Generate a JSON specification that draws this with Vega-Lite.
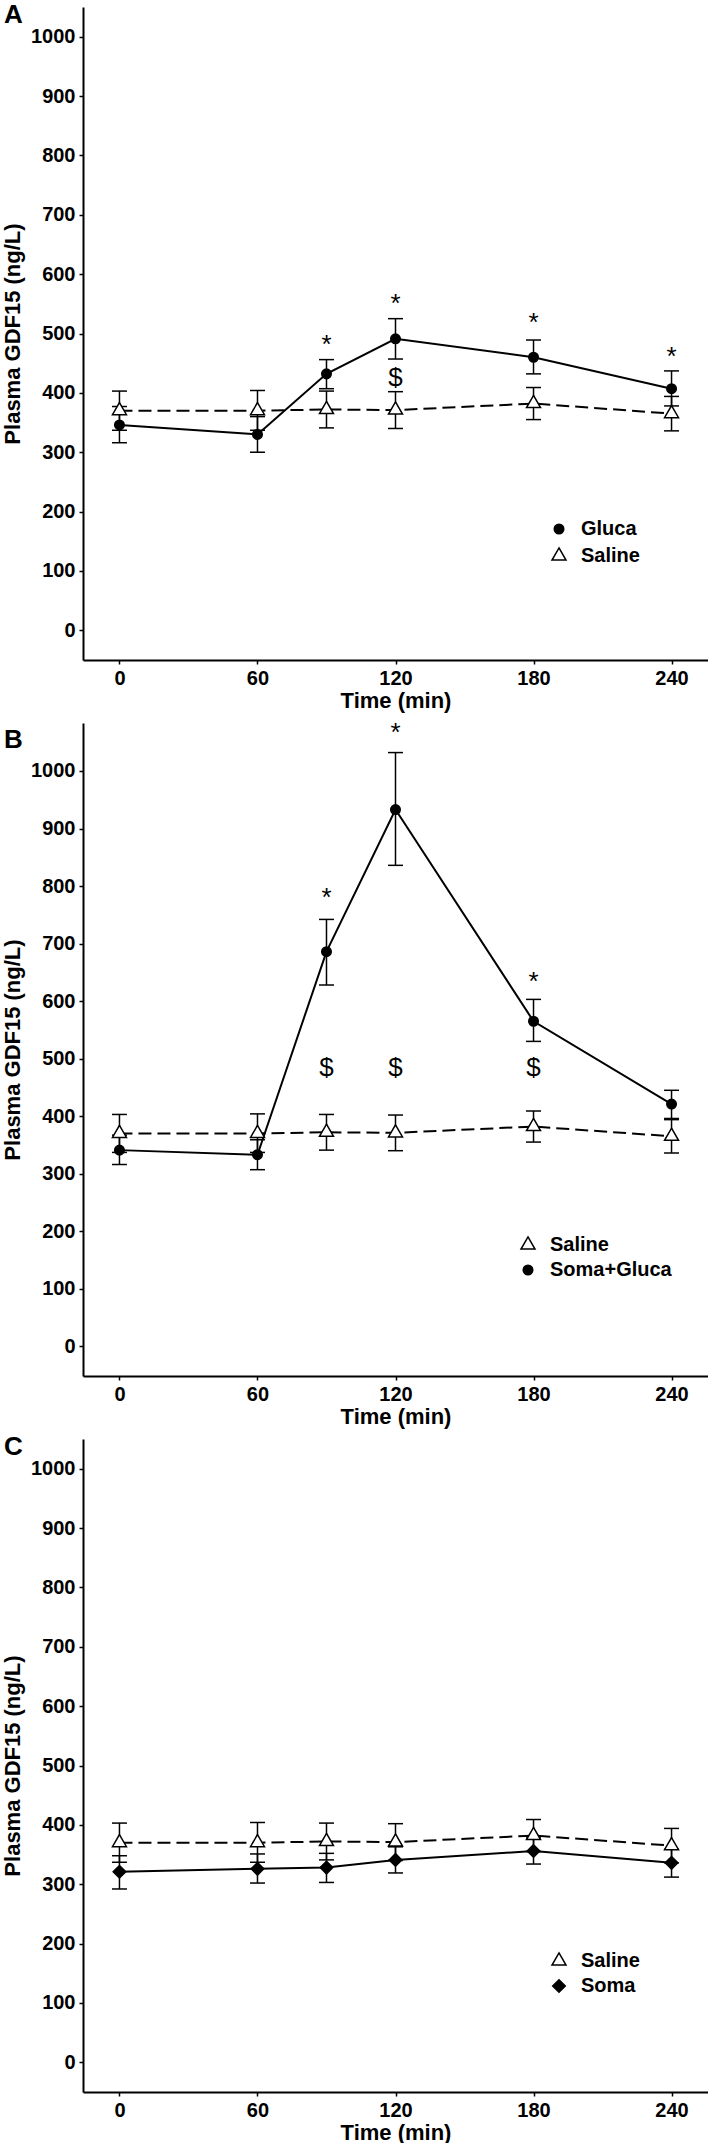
{
  "$schema": "https://vega.github.io/schema/vega-lite/v6.json",
  "padding": {"left": 1, "top": 2, "right": 0, "bottom": 0},
  "background": "white",
  "bounds": "flush",
  "spacing": 63,
  "config": {
    "font": "Liberation Sans",
    "view": {"stroke": null},
    "axis": {
      "grid": false, "domainColor": "black", "domainWidth": 2, "tickColor": "black", "tickWidth": 1.5, "tickSize": 4,
      "labelColor": "black", "labelFont": "Liberation Sans", "labelFontSize": 20, "labelFontWeight": "bold", "labelPadding": 4,
      "titleColor": "black", "titleFont": "Liberation Sans", "titleFontSize": 22, "titleFontWeight": "bold", "labelFlush": false
    },
    "axisY": {"titlePadding": 6, "format": "d"},
    "axisX": {"titlePadding": 2},
    "legend": {
      "labelColor": "black", "labelFont": "Liberation Sans", "labelFontSize": 20, "labelFontWeight": "bold",
      "symbolSize": 196, "symbolStrokeWidth": 1.5, "labelOffset": 12, "rowPadding": 5
    }
  },
  "resolve": {
    "scale": {"shape": "independent", "fill": "independent"},
    "legend": {"shape": "independent", "fill": "independent"}
  },
  "datasets": {
    "A": [
      {"group": "Gluca", "time": 0, "mean": 346, "lo": 316, "hi": 377},
      {"group": "Gluca", "time": 60, "mean": 330, "lo": 300, "hi": 360},
      {"group": "Gluca", "time": 90, "mean": 432, "lo": 407, "hi": 456},
      {"group": "Gluca", "time": 120, "mean": 491, "lo": 457, "hi": 525},
      {"group": "Gluca", "time": 180, "mean": 460, "lo": 432, "hi": 489},
      {"group": "Gluca", "time": 240, "mean": 407, "lo": 378, "hi": 437},
      {"group": "Saline", "time": 0, "mean": 370, "lo": 337, "hi": 403},
      {"group": "Saline", "time": 60, "mean": 370, "lo": 337, "hi": 404},
      {"group": "Saline", "time": 90, "mean": 372, "lo": 341, "hi": 403},
      {"group": "Saline", "time": 120, "mean": 371, "lo": 340, "hi": 402},
      {"group": "Saline", "time": 180, "mean": 382, "lo": 355, "hi": 409},
      {"group": "Saline", "time": 240, "mean": 365, "lo": 336, "hi": 394}
    ],
    "B": [
      {"group": "Soma+Gluca", "time": 0, "mean": 341, "lo": 316, "hi": 367},
      {"group": "Soma+Gluca", "time": 60, "mean": 333, "lo": 307, "hi": 359},
      {"group": "Soma+Gluca", "time": 90, "mean": 686, "lo": 628, "hi": 742},
      {"group": "Soma+Gluca", "time": 120, "mean": 933, "lo": 836, "hi": 1032},
      {"group": "Soma+Gluca", "time": 180, "mean": 565, "lo": 530, "hi": 603},
      {"group": "Soma+Gluca", "time": 240, "mean": 421, "lo": 396, "hi": 445},
      {"group": "Saline", "time": 0, "mean": 370, "lo": 337, "hi": 403},
      {"group": "Saline", "time": 60, "mean": 370, "lo": 337, "hi": 404},
      {"group": "Saline", "time": 90, "mean": 372, "lo": 341, "hi": 403},
      {"group": "Saline", "time": 120, "mean": 371, "lo": 340, "hi": 402},
      {"group": "Saline", "time": 180, "mean": 382, "lo": 355, "hi": 409},
      {"group": "Saline", "time": 240, "mean": 365, "lo": 336, "hi": 394}
    ],
    "C": [
      {"group": "Soma", "time": 0, "mean": 321, "lo": 292, "hi": 348},
      {"group": "Soma", "time": 60, "mean": 326, "lo": 302, "hi": 351},
      {"group": "Soma", "time": 90, "mean": 328, "lo": 303, "hi": 352},
      {"group": "Soma", "time": 120, "mean": 341, "lo": 319, "hi": 363},
      {"group": "Soma", "time": 180, "mean": 356, "lo": 334, "hi": 378},
      {"group": "Soma", "time": 240, "mean": 336, "lo": 312, "hi": 359},
      {"group": "Saline", "time": 0, "mean": 370, "lo": 337, "hi": 403},
      {"group": "Saline", "time": 60, "mean": 370, "lo": 337, "hi": 404},
      {"group": "Saline", "time": 90, "mean": 372, "lo": 341, "hi": 403},
      {"group": "Saline", "time": 120, "mean": 371, "lo": 340, "hi": 402},
      {"group": "Saline", "time": 180, "mean": 382, "lo": 355, "hi": 409},
      {"group": "Saline", "time": 240, "mean": 365, "lo": 336, "hi": 394}
    ],
    "annA": [
      {"time": 90, "label": "*", "y": 470},
      {"time": 120, "label": "*", "y": 540},
      {"time": 180, "label": "*", "y": 508},
      {"time": 240, "label": "*", "y": 450},
      {"time": 120, "label": "$", "y": 425}
    ],
    "annB": [
      {"time": 90, "label": "*", "y": 768},
      {"time": 120, "label": "*", "y": 1055},
      {"time": 180, "label": "*", "y": 622},
      {"time": 90, "label": "$", "y": 483},
      {"time": 120, "label": "$", "y": 483},
      {"time": 180, "label": "$", "y": 483}
    ]
  },
  "vconcat": [
    {
      "width": 625, "height": 653,
      "data": {"name": "A"},
      "layer": [
        {"transform": [{"filter": "datum.group !== 'Saline'"}],
         "mark": {"type": "line", "strokeWidth": 2, "color": "black"},
         "encoding": {
           "x": {"field": "time", "type": "quantitative", "title": "Time (min)", "scale": {"domain": [-15.85, 255.85], "nice": false, "zero": false}, "axis": {"values": [0, 60, 120, 180, 240]}},
           "y": {"field": "mean", "type": "quantitative", "title": "Plasma GDF15 (ng/L)", "scale": {"domain": [-50, 1050], "nice": false, "zero": false}, "axis": {"values": [0, 100, 200, 300, 400, 500, 600, 700, 800, 900, 1000]}}
         }},
        {"transform": [{"filter": "datum.group === 'Saline'"}],
         "mark": {"type": "line", "strokeWidth": 2, "color": "black", "strokeDash": [13, 6]},
         "encoding": {
           "x": {"field": "time", "type": "quantitative", "title": "Time (min)"},
           "y": {"field": "mean", "type": "quantitative", "title": "Plasma GDF15 (ng/L)"}
         }},
        {"mark": {"type": "rule", "strokeWidth": 1.5, "color": "black"},
         "encoding": {
           "x": {"field": "time", "type": "quantitative", "title": "Time (min)"},
           "y": {"field": "lo", "type": "quantitative", "title": "Plasma GDF15 (ng/L)"},
           "y2": {"field": "hi"}
         }},
        {"mark": {"type": "tick", "orient": "horizontal", "size": 15, "thickness": 1.5, "color": "black", "opacity": 1},
         "encoding": {
           "x": {"field": "time", "type": "quantitative", "title": "Time (min)"},
           "y": {"field": "lo", "type": "quantitative", "title": "Plasma GDF15 (ng/L)"}
         }},
        {"mark": {"type": "tick", "orient": "horizontal", "size": 15, "thickness": 1.5, "color": "black", "opacity": 1},
         "encoding": {
           "x": {"field": "time", "type": "quantitative", "title": "Time (min)"},
           "y": {"field": "hi", "type": "quantitative", "title": "Plasma GDF15 (ng/L)"}
         }},
        {"mark": {"type": "point", "filled": true, "stroke": "black", "strokeWidth": 1.5, "size": 196, "opacity": 1},
         "encoding": {
           "x": {"field": "time", "type": "quantitative", "title": "Time (min)"},
           "y": {"field": "mean", "type": "quantitative", "title": "Plasma GDF15 (ng/L)"},
           "shape": {"field": "group", "type": "nominal",
             "scale": {"domain": ["Gluca", "Saline"], "range": ["M0.68,0A0.68,0.68,0,1,1,-0.68,0A0.68,0.68,0,1,1,0.68,0Z", "M0,-1.155L1,0.577L-1,0.577Z"]},
             "legend": {"title": null, "orient": "none", "legendX": 466, "legendY": 512}},
           "fill": {"field": "group", "type": "nominal",
             "scale": {"domain": ["Gluca", "Saline"], "range": ["black", "white"]},
             "legend": {"title": null, "orient": "none", "legendX": 466, "legendY": 512}}
         }},
        {"data": {"name": "annA"}, "transform": [{"filter": "datum.label === '*'"}],
         "mark": {"type": "text", "fontSize": 26, "baseline": "middle", "color": "black", "dy": -6},
         "encoding": {
           "x": {"field": "time", "type": "quantitative", "title": "Time (min)"},
           "y": {"field": "y", "type": "quantitative", "title": "Plasma GDF15 (ng/L)"},
           "text": {"field": "label"}
         }},
        {"data": {"name": "annA"}, "transform": [{"filter": "datum.label === '$'"}],
         "mark": {"type": "text", "fontSize": 26, "baseline": "middle", "color": "black"},
         "encoding": {
           "x": {"field": "time", "type": "quantitative", "title": "Time (min)"},
           "y": {"field": "y", "type": "quantitative", "title": "Plasma GDF15 (ng/L)"},
           "text": {"field": "label"}
         }},
        {"data": {"values": [{"panel": "A"}]},
         "mark": {"type": "text", "fontSize": 26, "fontWeight": "bold", "align": "left", "baseline": "top", "color": "black"},
         "encoding": {
           "x": {"datum": -50.2, "type": "quantitative", "title": "Time (min)"},
           "y": {"datum": 1058, "type": "quantitative", "title": "Plasma GDF15 (ng/L)"},
           "text": {"field": "panel"}
         }}
      ]
    },
    {
      "width": 625, "height": 653,
      "data": {"name": "B"},
      "layer": [
        {"transform": [{"filter": "datum.group !== 'Saline'"}],
         "mark": {"type": "line", "strokeWidth": 2, "color": "black"},
         "encoding": {
           "x": {"field": "time", "type": "quantitative", "title": "Time (min)", "scale": {"domain": [-15.85, 255.85], "nice": false, "zero": false}, "axis": {"values": [0, 60, 120, 180, 240]}},
           "y": {"field": "mean", "type": "quantitative", "title": "Plasma GDF15 (ng/L)", "scale": {"domain": [-51.6, 1083.4], "nice": false, "zero": false}, "axis": {"values": [0, 100, 200, 300, 400, 500, 600, 700, 800, 900, 1000]}}
         }},
        {"transform": [{"filter": "datum.group === 'Saline'"}],
         "mark": {"type": "line", "strokeWidth": 2, "color": "black", "strokeDash": [13, 6]},
         "encoding": {
           "x": {"field": "time", "type": "quantitative", "title": "Time (min)"},
           "y": {"field": "mean", "type": "quantitative", "title": "Plasma GDF15 (ng/L)"}
         }},
        {"mark": {"type": "rule", "strokeWidth": 1.5, "color": "black"},
         "encoding": {
           "x": {"field": "time", "type": "quantitative", "title": "Time (min)"},
           "y": {"field": "lo", "type": "quantitative", "title": "Plasma GDF15 (ng/L)"},
           "y2": {"field": "hi"}
         }},
        {"mark": {"type": "tick", "orient": "horizontal", "size": 15, "thickness": 1.5, "color": "black", "opacity": 1},
         "encoding": {
           "x": {"field": "time", "type": "quantitative", "title": "Time (min)"},
           "y": {"field": "lo", "type": "quantitative", "title": "Plasma GDF15 (ng/L)"}
         }},
        {"mark": {"type": "tick", "orient": "horizontal", "size": 15, "thickness": 1.5, "color": "black", "opacity": 1},
         "encoding": {
           "x": {"field": "time", "type": "quantitative", "title": "Time (min)"},
           "y": {"field": "hi", "type": "quantitative", "title": "Plasma GDF15 (ng/L)"}
         }},
        {"mark": {"type": "point", "filled": true, "stroke": "black", "strokeWidth": 1.5, "size": 196, "opacity": 1},
         "encoding": {
           "x": {"field": "time", "type": "quantitative", "title": "Time (min)"},
           "y": {"field": "mean", "type": "quantitative", "title": "Plasma GDF15 (ng/L)"},
           "shape": {"field": "group", "type": "nominal",
             "scale": {"domain": ["Saline", "Soma+Gluca"], "range": ["M0,-1.155L1,0.577L-1,0.577Z", "M0.68,0A0.68,0.68,0,1,1,-0.68,0A0.68,0.68,0,1,1,0.68,0Z"]},
             "legend": {"title": null, "orient": "none", "legendX": 435, "legendY": 512}},
           "fill": {"field": "group", "type": "nominal",
             "scale": {"domain": ["Saline", "Soma+Gluca"], "range": ["white", "black"]},
             "legend": {"title": null, "orient": "none", "legendX": 435, "legendY": 512}}
         }},
        {"data": {"name": "annB"}, "transform": [{"filter": "datum.label === '*'"}],
         "mark": {"type": "text", "fontSize": 26, "baseline": "middle", "color": "black", "dy": -6},
         "encoding": {
           "x": {"field": "time", "type": "quantitative", "title": "Time (min)"},
           "y": {"field": "y", "type": "quantitative", "title": "Plasma GDF15 (ng/L)"},
           "text": {"field": "label"}
         }},
        {"data": {"name": "annB"}, "transform": [{"filter": "datum.label === '$'"}],
         "mark": {"type": "text", "fontSize": 26, "baseline": "middle", "color": "black"},
         "encoding": {
           "x": {"field": "time", "type": "quantitative", "title": "Time (min)"},
           "y": {"field": "y", "type": "quantitative", "title": "Plasma GDF15 (ng/L)"},
           "text": {"field": "label"}
         }},
        {"data": {"values": [{"panel": "B"}]},
         "mark": {"type": "text", "fontSize": 26, "fontWeight": "bold", "align": "left", "baseline": "top", "color": "black"},
         "encoding": {
           "x": {"datum": -50.2, "type": "quantitative", "title": "Time (min)"},
           "y": {"datum": 1076, "type": "quantitative", "title": "Plasma GDF15 (ng/L)"},
           "text": {"field": "panel"}
         }}
      ]
    },
    {
      "width": 625, "height": 653,
      "data": {"name": "C"},
      "layer": [
        {"transform": [{"filter": "datum.group !== 'Saline'"}],
         "mark": {"type": "line", "strokeWidth": 2, "color": "black"},
         "encoding": {
           "x": {"field": "time", "type": "quantitative", "title": "Time (min)", "scale": {"domain": [-15.85, 255.85], "nice": false, "zero": false}, "axis": {"values": [0, 60, 120, 180, 240]}},
           "y": {"field": "mean", "type": "quantitative", "title": "Plasma GDF15 (ng/L)", "scale": {"domain": [-50, 1050], "nice": false, "zero": false}, "axis": {"values": [0, 100, 200, 300, 400, 500, 600, 700, 800, 900, 1000]}}
         }},
        {"transform": [{"filter": "datum.group === 'Saline'"}],
         "mark": {"type": "line", "strokeWidth": 2, "color": "black", "strokeDash": [13, 6]},
         "encoding": {
           "x": {"field": "time", "type": "quantitative", "title": "Time (min)"},
           "y": {"field": "mean", "type": "quantitative", "title": "Plasma GDF15 (ng/L)"}
         }},
        {"mark": {"type": "rule", "strokeWidth": 1.5, "color": "black"},
         "encoding": {
           "x": {"field": "time", "type": "quantitative", "title": "Time (min)"},
           "y": {"field": "lo", "type": "quantitative", "title": "Plasma GDF15 (ng/L)"},
           "y2": {"field": "hi"}
         }},
        {"mark": {"type": "tick", "orient": "horizontal", "size": 15, "thickness": 1.5, "color": "black", "opacity": 1},
         "encoding": {
           "x": {"field": "time", "type": "quantitative", "title": "Time (min)"},
           "y": {"field": "lo", "type": "quantitative", "title": "Plasma GDF15 (ng/L)"}
         }},
        {"mark": {"type": "tick", "orient": "horizontal", "size": 15, "thickness": 1.5, "color": "black", "opacity": 1},
         "encoding": {
           "x": {"field": "time", "type": "quantitative", "title": "Time (min)"},
           "y": {"field": "hi", "type": "quantitative", "title": "Plasma GDF15 (ng/L)"}
         }},
        {"mark": {"type": "point", "filled": true, "stroke": "black", "strokeWidth": 1.5, "size": 196, "opacity": 1},
         "encoding": {
           "x": {"field": "time", "type": "quantitative", "title": "Time (min)"},
           "y": {"field": "mean", "type": "quantitative", "title": "Plasma GDF15 (ng/L)"},
           "shape": {"field": "group", "type": "nominal",
             "scale": {"domain": ["Saline", "Soma"], "range": ["M0,-1.155L1,0.577L-1,0.577Z", "M0,-0.9L0.9,0L0,0.9L-0.9,0Z"]},
             "legend": {"title": null, "orient": "none", "legendX": 466, "legendY": 512}},
           "fill": {"field": "group", "type": "nominal",
             "scale": {"domain": ["Saline", "Soma"], "range": ["white", "black"]},
             "legend": {"title": null, "orient": "none", "legendX": 466, "legendY": 512}}
         }},
        {"data": {"values": [{"panel": "C"}]},
         "mark": {"type": "text", "fontSize": 26, "fontWeight": "bold", "align": "left", "baseline": "top", "color": "black"},
         "encoding": {
           "x": {"datum": -50.2, "type": "quantitative", "title": "Time (min)"},
           "y": {"datum": 1058, "type": "quantitative", "title": "Plasma GDF15 (ng/L)"},
           "text": {"field": "panel"}
         }}
      ]
    }
  ]
}
